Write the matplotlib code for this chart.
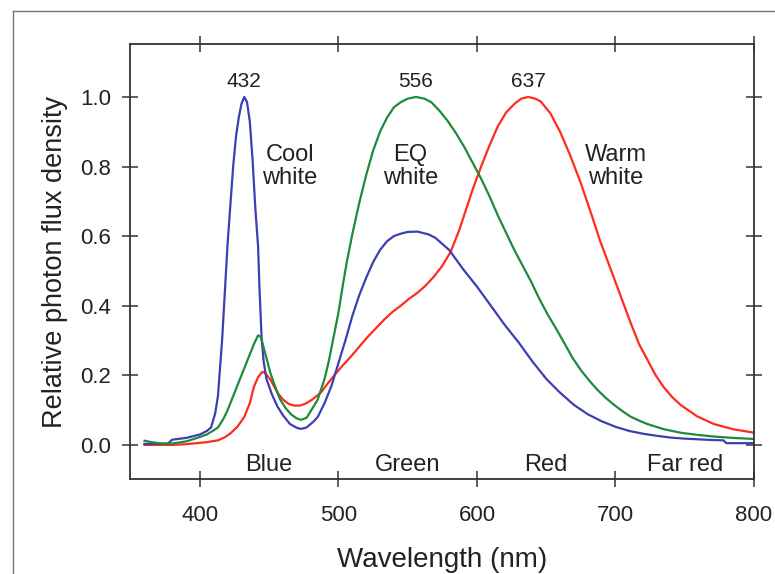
import matplotlib
matplotlib.use("Agg")
import matplotlib.pyplot as plt
from matplotlib.lines import Line2D

plt.rcParams['font.family'] = ['Liberation Sans', 'DejaVu Sans']

# Cool white LED (blue curve)
cool_wl = [360, 370, 377, 380, 390, 400, 405, 408, 411, 413, 416, 418, 420, 422,
           424, 426, 428, 430, 432, 434, 436, 438, 440, 442, 443, 444.5, 446, 448,
           452, 456, 460, 465, 470, 473, 477, 482, 485, 490, 495, 500, 505, 510,
           515, 520, 525, 530, 535, 540, 545, 550, 557, 565, 570, 580, 590, 600,
           610, 620, 630, 640, 650, 660, 670, 680, 690, 700, 710, 720, 730, 740,
           750, 760, 770, 778, 780, 790, 800]
cool_val = [0.003, 0.003, 0.004, 0.015, 0.02, 0.03, 0.04, 0.05, 0.09, 0.14, 0.30,
            0.44, 0.58, 0.69, 0.80, 0.885, 0.94, 0.98, 1.00, 0.985, 0.93, 0.82,
            0.68, 0.57, 0.45, 0.31, 0.24, 0.19, 0.145, 0.11, 0.085, 0.06, 0.049,
            0.046, 0.05, 0.067, 0.08, 0.12, 0.17, 0.235, 0.30, 0.37, 0.43, 0.48,
            0.525, 0.56, 0.585, 0.60, 0.607, 0.612, 0.613, 0.605, 0.595, 0.56,
            0.505, 0.455, 0.40, 0.345, 0.295, 0.24, 0.19, 0.15, 0.115, 0.088,
            0.068, 0.052, 0.04, 0.032, 0.026, 0.021, 0.018, 0.016, 0.014, 0.013,
            0.005, 0.005, 0.005]

# EQ white LED (green curve)
eq_wl = [360, 365, 370, 375, 380, 390, 398, 405, 410, 413, 417, 420, 422, 426, 430,
         435, 439, 442, 444, 446, 449, 451, 455, 458, 462, 466, 470, 473, 477, 482,
         485, 490, 493, 497, 500, 503, 506, 510, 515, 520, 525, 530, 535, 540, 545,
         550, 556, 562, 567, 573, 579, 585, 591, 597, 603, 609, 615, 621, 627, 633,
         639, 645, 651, 657, 663, 669, 675, 681, 687, 693, 699, 705, 711, 717, 723,
         735, 747, 759, 771, 785, 800]
eq_val = [0.012, 0.008, 0.005, 0.003, 0.004, 0.01, 0.02, 0.03, 0.042, 0.05, 0.075,
          0.10, 0.12, 0.16, 0.20, 0.25, 0.29, 0.315, 0.31, 0.28, 0.235, 0.205, 0.16,
          0.13, 0.105, 0.087, 0.076, 0.072, 0.078, 0.11, 0.13, 0.19, 0.24, 0.32,
          0.38, 0.455, 0.525, 0.605, 0.695, 0.775, 0.845, 0.90, 0.94, 0.97, 0.985,
          0.995, 1.0, 0.995, 0.985, 0.96, 0.93, 0.895, 0.855, 0.81, 0.765, 0.715,
          0.66, 0.61, 0.56, 0.515, 0.47, 0.42, 0.375, 0.335, 0.293, 0.25, 0.215,
          0.185, 0.158, 0.135, 0.115, 0.097, 0.081, 0.07, 0.06, 0.045, 0.035,
          0.029, 0.024, 0.02, 0.017]

# Warm white LED (red curve)
warm_wl = [360, 380, 390, 398, 405, 413, 418, 422, 427, 432, 436, 439, 442, 445, 447,
           451, 456, 460, 464, 468, 472, 476, 481, 487, 492, 497, 503, 509, 515, 521,
           527, 533, 539, 545, 551, 557, 563, 569, 575, 581, 587, 592, 597, 603, 609,
           615, 621, 627, 632, 637, 642, 646, 653, 660, 667, 675, 682, 689, 697, 704,
           711, 717, 723, 729, 735, 741, 747, 759, 771, 785, 800]
warm_val = [0.0, 0.0, 0.002, 0.005, 0.008, 0.013, 0.022, 0.033, 0.052, 0.08, 0.12,
            0.167, 0.195, 0.21, 0.207, 0.187, 0.15, 0.13, 0.118, 0.113, 0.113, 0.118,
            0.13, 0.149, 0.175, 0.20, 0.228, 0.254, 0.282, 0.31, 0.335, 0.36, 0.382,
            0.40, 0.42, 0.437, 0.458, 0.484, 0.515, 0.555, 0.615, 0.675, 0.735, 0.80,
            0.86, 0.915, 0.955, 0.98, 0.995, 1.0, 0.995, 0.987, 0.953, 0.90, 0.835,
            0.752, 0.67, 0.585, 0.50, 0.425, 0.35, 0.29, 0.245, 0.20, 0.165, 0.137,
            0.115, 0.082, 0.06, 0.045, 0.035]

peak_wl = [432, 556, 637]
curve_names = ["Cool\nwhite", "EQ\nwhite", "Warm\nwhite"]
curve_label_x = [465, 552, 700]
band_names = ["Blue", "Green", "Red", "Far red"]
band_x = [450, 550, 650, 750]

fig = plt.figure(figsize=(7.75, 5.74), dpi=100)
ax = fig.add_axes([0.1677, 0.1655, 0.8052, 0.7578])

ax.plot(warm_wl, warm_val, color="#ff2b1c", lw=1.6)
ax.plot(cool_wl, cool_val, color="#3b3fb2", lw=1.6)
ax.plot(eq_wl, eq_val, color="#1f8a3c", lw=1.6)

ax.set_xlim(349.5, 800)
ax.set_ylim(-0.098, 1.152)
ax.set_xticks([400, 500, 600, 700, 800])
ax.set_yticks([0.0, 0.2, 0.4, 0.6, 0.8, 1.0])
ax.yaxis.set_major_formatter(matplotlib.ticker.FormatStrFormatter("%.1f"))
ax.tick_params(direction="inout", length=11, width=1.1, color="#333333",
               labelsize=16, top=True, right=True, labelcolor="#222222")
ax.tick_params(axis="x", pad=13)
ax.tick_params(axis="y", pad=8)
for s in ax.spines.values():
    s.set_color("#333333")
    s.set_linewidth(1.3)

for wl in peak_wl:
    ax.text(wl, 1.045, str(wl), ha="center", va="center", fontsize=15, color="#222222")
for name, x in zip(curve_names, curve_label_x):
    ax.text(x, 0.80, name, ha="center", va="center", fontsize=17, color="#222222",
            linespacing=1.05)
for name, x in zip(band_names, band_x):
    ax.text(x, -0.057, name, ha="center", va="center", fontsize=17, color="#222222")

ax.set_xlabel("Wavelength (nm)", fontsize=20, color="#222222", labelpad=15)
ax.set_ylabel("Relative photon flux density", fontsize=19.5, color="#222222", labelpad=9)

# thin frame around the figure (top and left edges visible)
fig.add_artist(Line2D([13 / 775, 1.0], [1 - 11 / 574, 1 - 11 / 574],
                      transform=fig.transFigure, color="#777777", lw=1.0))
fig.add_artist(Line2D([13 / 775, 13 / 775], [0.0, 1 - 11 / 574],
                      transform=fig.transFigure, color="#777777", lw=1.0))

fig.savefig("out.png", dpi=100)
